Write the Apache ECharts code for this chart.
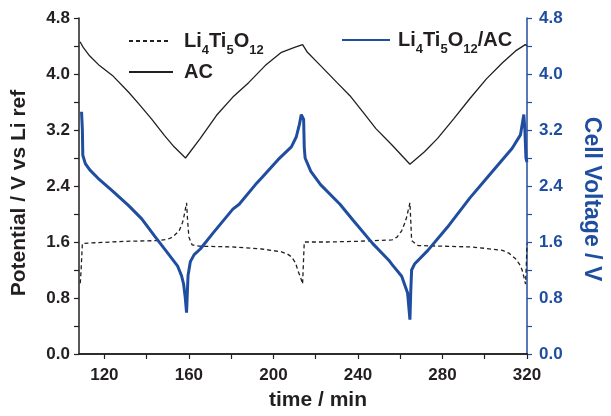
<!DOCTYPE html>
<html>
<head>
<meta charset="utf-8">
<script src="https://cdn.jsdelivr.net/npm/echarts@6/dist/echarts.min.js"></script>
<style>
html,body{margin:0;padding:0;background:#fff;}
#chart{width:611px;height:416px;}
</style>
</head>
<body>
<div id="chart"></div>
<script>
// ---- Data ----
const lto_t = [108.6,109.0,109.6,110.5,130,145.4,150,152.3,155.4,157,157.7,158.9,159.4,160,161.5,165,180,194.6,203.8,206.5,208.5,210.5,211.5,213,213.8,214.2,214.6,225.4,240,256.1,258.5,260.7,262.3,263,264.6,265.0,265.4,268.4,280,293,300,308.4,311.5,314.6,316.5,317.7,318.7,319.3,319.7,320];
const lto_v = [1.01,1.20,1.58,1.60,1.61,1.62,1.64,1.67,1.76,1.88,1.97,2.16,1.90,1.67,1.56,1.54,1.53,1.50,1.46,1.43,1.39,1.30,1.20,1.08,1.00,1.30,1.60,1.60,1.61,1.63,1.67,1.76,1.88,1.95,2.16,1.90,1.62,1.55,1.54,1.53,1.51,1.48,1.44,1.36,1.28,1.20,1.08,1.00,1.30,1.58];

const ac_t = [108.5,110,113,117.7,123.8,131.5,136.1,142.3,148.5,153,158.4,165.4,173.1,180.8,188.4,196.1,203.8,210,213.8,216.1,222.3,230,236.2,242.3,248.5,256,264.6,271.5,277.7,285.3,293,300.8,308.4,314.6,319.2,320];
const ac_v = [4.46,4.38,4.26,4.12,3.98,3.74,3.58,3.36,3.12,2.96,2.80,3.08,3.41,3.67,3.88,4.12,4.31,4.38,4.42,4.31,4.12,3.88,3.69,3.46,3.22,2.99,2.71,2.89,3.08,3.36,3.65,3.93,4.16,4.33,4.42,4.40];

const cell_t = [109.2,109.6,109.8,111.0,113.1,117.7,123.8,131.5,137.7,143.9,150,154.6,156.5,157.5,158.3,158.9,159.3,159.6,160.7,162.5,165.4,171.5,180.8,183.8,191.5,194.6,202.3,208.5,210.8,212.3,213.2,213.8,214.3,214.6,215,217.7,222.3,231.5,237.7,246.9,254.6,256.1,260.7,263.5,264.6,265.0,265.4,266.9,273.1,282.3,293,302.3,313,316.9,318.1,318.5,319.0,319.5,320];
const cell_v = [3.46,3.20,2.84,2.72,2.63,2.49,2.33,2.12,1.93,1.68,1.44,1.26,1.12,1.00,0.80,0.59,0.90,1.12,1.32,1.42,1.50,1.73,2.07,2.14,2.42,2.52,2.78,2.96,3.10,3.28,3.42,3.44,3.35,2.95,2.80,2.61,2.42,2.14,1.91,1.58,1.34,1.28,1.11,0.87,0.49,0.90,1.20,1.29,1.48,1.81,2.23,2.56,2.94,3.13,3.35,3.42,3.20,2.80,2.74];

const xTickValues = [120,140,160,180,200,220,240,260,280,300,320];
const xLabelValues = [120,160,200,240,280,320];
const seriesNames = ['Li4Ti5O12','AC','Li4Ti5O12/AC'];

const zip = (a,b) => a.map((v,i)=>[v,b[i]]);

const FONT = '"Liberation Sans", Arial, Helvetica, sans-serif';
const BLACK = '#231f20';
const BLUE = '#1f4d9f';

function makeRich(gap){
  return {
    g:{width:gap,fontSize:20,lineHeight:24},
    m:{fontSize:20,fontWeight:'bold',fontFamily:FONT,lineHeight:24,color:BLACK},
    s:{fontSize:13,fontWeight:'bold',fontFamily:FONT,lineHeight:13,padding:[18,0,0,0],color:BLACK}
  };
}
function fmtName(n){
  return '{g| }' + n.replace(/([A-Za-z\/]+)|(\d+)/g,(m,a,d)=> a ? '{m|'+a+'}' : '{s|'+d+'}');
}

const chart = echarts.init(document.getElementById('chart'), null, {renderer:'canvas'});

const labelStyle = {fontSize:17,fontWeight:'bold',fontFamily:FONT,color:BLACK};
const legendBase = {padding:0,itemHeight:14,itemGap:0,formatter:fmtName,selectedMode:false,
  itemStyle:{opacity:0,borderWidth:0}};

const option = {
  animation:false,
  backgroundColor:'#fff',
  grid:{left:79,right:72,top:18,bottom:58,containLabel:false},
  legend:[
    Object.assign({},legendBase,{data:[seriesNames[0]],left:128,top:25.5,itemWidth:42,textStyle:{rich:makeRich(8)}}),
    Object.assign({},legendBase,{data:[seriesNames[1]],left:128,top:62,itemWidth:44,textStyle:{rich:makeRich(6)}}),
    Object.assign({},legendBase,{data:[seriesNames[2]],left:341,top:24.5,itemWidth:48,textStyle:{rich:makeRich(3)}})
  ],
  xAxis:[
    {type:'value',min:108,max:320,position:'bottom',
     name:'time / min',nameLocation:'middle',nameGap:36,
     nameTextStyle:{fontSize:21,fontWeight:'bold',fontFamily:FONT,color:BLACK,padding:[0,0,0,30]},
     axisLine:{show:true,lineStyle:{color:BLACK,width:1.5}},
     axisTick:{show:true,customValues:xTickValues,length:5,inside:false,lineStyle:{color:BLACK,width:1.2}},
     axisLabel:Object.assign({customValues:xLabelValues,margin:13},labelStyle),
     splitLine:{show:false}},
    {type:'value',min:108,max:320,position:'top',
     axisLine:{show:true,lineStyle:{color:BLACK,width:1.5}},
     axisTick:{show:false},axisLabel:{show:false},splitLine:{show:false}}
  ],
  yAxis:[
    {type:'value',min:0,max:4.8,interval:0.8,position:'left',
     name:'Potential / V vs Li ref',nameLocation:'middle',nameGap:49,
     nameTextStyle:{fontSize:21,fontWeight:'bold',fontFamily:FONT,color:BLACK,padding:[0,14,0,0]},
     axisLine:{show:true,lineStyle:{color:BLACK,width:1.5}},
     axisTick:{show:true,length:5,inside:false,lineStyle:{color:BLACK,width:1.2}},
     minorTick:{show:true,splitNumber:2,length:5,lineStyle:{color:BLACK,width:1.2}},
     axisLabel:Object.assign({margin:9,formatter:v=>v.toFixed(1)},labelStyle),
     splitLine:{show:false}},
    {type:'value',min:0,max:4.8,interval:0.8,position:'right',
     name:'Cell Voltage / V',nameLocation:'middle',nameGap:53,nameRotate:-90,
     nameTextStyle:{fontSize:23,fontWeight:'bold',fontFamily:FONT,color:BLUE,padding:[0,0,0,26]},
     axisLine:{show:true,lineStyle:{color:BLUE,width:1.5}},
     axisTick:{show:true,length:5,inside:false,lineStyle:{color:BLUE,width:1.2}},
     minorTick:{show:true,splitNumber:2,length:5,lineStyle:{color:BLUE,width:1.2}},
     axisLabel:Object.assign({},labelStyle,{margin:12,color:BLUE,formatter:v=>v.toFixed(1)}),
     splitLine:{show:false}}
  ],
  series:[
    {name:seriesNames[0],type:'line',xAxisIndex:0,yAxisIndex:0,data:zip(lto_t,lto_v),
     showSymbol:false,symbol:'none',smooth:false,
     itemStyle:{color:BLACK},lineStyle:{color:BLACK,width:1.3,type:[4,3]}},
    {name:seriesNames[1],type:'line',xAxisIndex:0,yAxisIndex:0,data:zip(ac_t,ac_v),
     showSymbol:false,symbol:'none',smooth:false,
     itemStyle:{color:BLACK},lineStyle:{color:BLACK,width:1.3}},
    {name:seriesNames[2],type:'line',xAxisIndex:0,yAxisIndex:1,data:zip(cell_t,cell_v),
     showSymbol:false,symbol:'none',smooth:false,
     itemStyle:{color:BLUE},lineStyle:{color:BLUE,width:3}}
  ]
};
chart.setOption(option);
</script>
</body>
</html>
